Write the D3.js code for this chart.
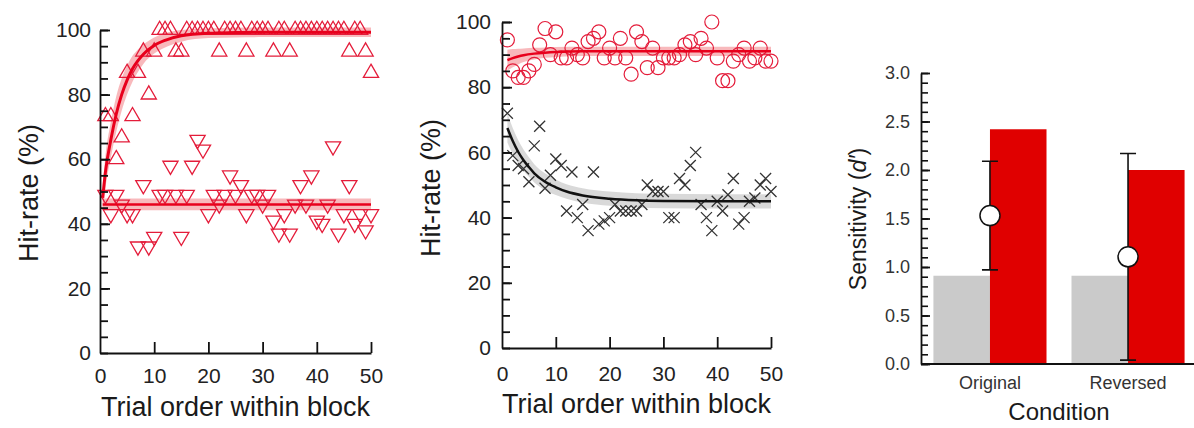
<!DOCTYPE html>
<html><head><meta charset="utf-8">
<script src="https://cdn.jsdelivr.net/npm/d3@7"></script>
<style>
body{margin:0;background:#fff;}
svg{display:block;font-family:"Liberation Sans",Arial,sans-serif;}
</style>
</head><body>
<svg id="c" width="1194" height="428"></svg>
<script>
// ---------- data ----------
const trials = d3.range(1, 51);
const yTicksHit = [0, 20, 40, 60, 80, 100];
const xTicksTrial = [0, 10, 20, 30, 40, 50];

// Panel A: upright triangles and inverted triangles
const upHits = [73.3,73.3,60,66.7,86.7,73.3,86.7,93.3,80,93.3,
  100,100,100,93.3,93.3,100,100,100,100,100,
  100,93.3,100,100,100,100,93.3,100,100,100,
  100,93.3,100,100,93.3,100,100,100,100,100,
  100,100,100,100,100,93.3,100,100,93.3,86.7];
const downHits = [49,43,49,46,43,43,33,52,33,36,
  49,49,58,49,36,49,58,66,63,43,
  49,46,49,55,49,52,43,49,49,46,
  49,41,37,43,37,46,52,46,55,41,
  40,46,64,37,43,52,40,43,38,43];
const upFitT = [0.5,1,2,3,4,5,6,7,8,10,12,15,20,25,30,40,50];
const upFit = [48,56,66,74,80,84.5,88,90.5,92.5,95.2,96.8,98.2,99,99.2,99.3,99.3,99.3];
const upBandHalf = [4,5,5.5,5.5,5,4.5,4,3.5,3,2.5,2.2,1.8,1.5,1.5,1.5,1.5,1.5];
const downFitT = [0.5, 50];
const downFit = [46, 46];
const downBandHalf = [1.8, 1.8];

// Panel B: circles and crosses
const circHits = [94.5,85,83,83,85,87,93,98,90,97,
  89,89,92,90,89,94,95,97,89,92,
  89,95,89,84,97,94,86,92,86,89,
  89,89,90,93,94,90,95,92,100,89,
  82,82,88,90,92,88,89,92,88,88];
const crossHits = [72,59,56,55,51,62,68,49,53,58,
  56,42,54,40,44,36,54,38,39,40,
  44,42,42,42,42,44,50,48,48,48,
  40,40,52,50,56,60,44,40,36,45,
  42,47,52,38,40,45,46,50,52,48];
const circFitT = [1,2,3,4,6,8,10,15,20,30,50];
const circFit = [88.3,88.9,89.4,89.8,90.3,90.6,90.8,91,91,91,91];
const circBandHalf = [3.2,2.8,2.4,2.1,1.8,1.6,1.5,1.4,1.4,1.4,1.4];
const crossFitT = [1,2,3,4,5,6,8,10,12,15,20,25,30,40,50];
const crossFit = [67.5,63.5,60.2,57.6,55.5,53.6,51,49.3,48,46.8,45.8,45.3,45.1,45,45];
const crossBandHalf = [4.5,4,3.6,3.3,3,2.8,2.6,2.4,2.2,2.2,2.2,2.2,2.2,2.2,2.2];

// Panel C: sensitivity bars
const conditions = ["Original", "Reversed"];
const barGroups = ["baseline", "observed"];
const baselineDp = [0.91, 0.91];
const observedDp = [2.42, 2.0];
const meanDp = [1.53, 1.105];
const errDp = [0.56, 1.065];
const yTicksDp = [0, 0.5, 1.0, 1.5, 2.0, 2.5, 3.0];

// ---------- styles ----------
const RED = "#e41c3a";
const svg = d3.select("#c");
const TICKFONT = 21, TITLEFONT = 27;

function hitAxes(g, x, y, opt) {
  g.append("g").attr("transform", `translate(${x(0)},0)`)
    .call(d3.axisLeft(y).tickValues(d3.range(0, 101, 5)).tickSize(-8).tickSizeOuter(0).tickFormat(""))
    .call(s => s.select(".domain").remove())
    .selectAll("line").attr("stroke", "#111").attr("stroke-width", 1.8);
  const ya = g.append("g").attr("transform", `translate(${x(0)},0)`)
    .call(d3.axisLeft(y).tickValues(yTicksHit).tickSize(-10).tickSizeOuter(0).tickPadding(opt.yPad));
  const xa = g.append("g").attr("transform", `translate(0,${y(0)})`)
    .call(d3.axisBottom(x).tickValues(xTicksTrial).tickSize(-11).tickSizeOuter(0).tickPadding(opt.xPad));
  [ya, xa].forEach(a => {
    a.selectAll("line,path").attr("stroke", "#111").attr("stroke-width", 1.8);
    a.selectAll("text").attr("font-size", TICKFONT).attr("fill", "#222").attr("font-family", "Liberation Sans, Arial, sans-serif");
  });
  xa.selectAll(".tick").filter(d => d === 0).select("line").remove();
  ya.selectAll(".tick").filter(d => d === 0).select("line").remove();
  g.append("text").attr("x", (x(0) + x(50)) / 2).attr("y", opt.xTitleY)
    .attr("text-anchor", "middle").attr("font-size", TITLEFONT).attr("fill", "#1a1a1a")
    .text("Trial order within block");
  g.append("text").attr("transform", `translate(${opt.yTitleX},${opt.yTitleY}) rotate(-90)`)
    .attr("text-anchor", "middle").attr("dy", "0.35em").attr("font-size", TITLEFONT).attr("fill", "#1a1a1a")
    .text("Hit-rate (%)");
}

function fitBand(g, x, y, ts, vals, halfs, fill) {
  const pts = ts.map((t, i) => ({t, v: vals[i], h: halfs[i]}));
  g.append("path").datum(pts)
    .attr("d", d3.area().curve(d3.curveMonotoneX).x(d => x(d.t)).y0(d => y(d.v - d.h)).y1(d => y(d.v + d.h)))
    .attr("fill", fill).attr("stroke", "none");
}
function fitLine(g, x, y, ts, vals, color, w) {
  const pts = ts.map((t, i) => ({t, v: vals[i]}));
  g.append("path").datum(pts)
    .attr("d", d3.line().curve(d3.curveMonotoneX).x(d => x(d.t)).y(d => y(d.v)))
    .attr("fill", "none").attr("stroke", color).attr("stroke-width", w);
}

// ---------- Panel A ----------
{
  const x = d3.scaleLinear().domain([0, 50]).range([100, 371]);
  const y = d3.scaleLinear().domain([0, 100]).range([353, 30]);
  const g = svg.append("g");
  const tri = d3.symbol().type(d3.symbolTriangle).size(100);
  fitBand(g, x, y, upFitT, upFit, upBandHalf, "rgba(236,70,80,0.38)");
  fitBand(g, x, y, downFitT, downFit, downBandHalf, "rgba(236,70,80,0.38)");
  g.selectAll(".up").data(trials).join("path")
    .attr("d", tri).attr("transform", (t, i) => `translate(${x(t)},${y(upHits[i])})`)
    .attr("fill", "none").attr("stroke", RED).attr("stroke-width", 1.3);
  g.selectAll(".down").data(trials).join("path")
    .attr("d", tri).attr("transform", (t, i) => `translate(${x(t)},${y(downHits[i])}) rotate(180)`)
    .attr("fill", "none").attr("stroke", RED).attr("stroke-width", 1.3);
  fitLine(g, x, y, upFitT, upFit, "#e8001c", 3);
  fitLine(g, x, y, downFitT, downFit, "#e8001c", 2.5);
  hitAxes(g, x, y, {yPad: 9, xPad: 15, xTitleY: 416, yTitleX: 29, yTitleY: 193});
}

// ---------- Panel B ----------
{
  const x = d3.scaleLinear().domain([0, 50]).range([502, 771]);
  const y = d3.scaleLinear().domain([0, 100]).range([348, 22]);
  const g = svg.append("g");
  fitBand(g, x, y, circFitT, circFit, circBandHalf, "rgba(236,70,80,0.38)");
  fitBand(g, x, y, crossFitT, crossFit, crossBandHalf, "rgba(0,0,0,0.15)");
  g.selectAll(".circ").data(trials).join("circle")
    .attr("cx", t => x(t)).attr("cy", (t, i) => y(circHits[i])).attr("r", 7)
    .attr("fill", "none").attr("stroke", RED).attr("stroke-width", 1.2);
  const s = 5.5;
  g.selectAll(".cross").data(trials).join("path")
    .attr("d", (t, i) => {
      const cx = x(t), cy = y(crossHits[i]);
      return `M${cx - s},${cy - s}L${cx + s},${cy + s}M${cx - s},${cy + s}L${cx + s},${cy - s}`;
    })
    .attr("fill", "none").attr("stroke", "#333").attr("stroke-width", 1.3);
  fitLine(g, x, y, circFitT, circFit, "#e8001c", 2.5);
  fitLine(g, x, y, crossFitT, crossFit, "#111", 2.5);
  hitAxes(g, x, y, {yPad: 11, xPad: 18, xTitleY: 413, yTitleX: 431, yTitleY: 188});
}

// ---------- Panel C ----------
{
  const y = d3.scaleLinear().domain([0, 3]).range([364, 73]);
  const x = d3.scaleBand().domain(conditions).range([921, 1197]).paddingInner(0.181).paddingOuter(0.09);
  const xs = d3.scaleBand().domain(barGroups).range([0, x.bandwidth()]);
  const g = svg.append("g");
  const rows = conditions.map((c, i) => ({c, base: baselineDp[i], obs: observedDp[i], m: meanDp[i], e: errDp[i]}));
  g.selectAll(".gbar").data(rows).join("rect")
    .attr("x", d => x(d.c) + xs("baseline")).attr("width", xs.bandwidth())
    .attr("y", d => y(d.base)).attr("height", d => y(0) - y(d.base)).attr("fill", "#cacaca");
  g.selectAll(".rbar").data(rows).join("rect")
    .attr("x", d => x(d.c) + xs("observed")).attr("width", xs.bandwidth())
    .attr("y", d => y(d.obs)).attr("height", d => y(0) - y(d.obs)).attr("fill", "#e00000");
  const cx = d => x(d.c) + xs("observed");
  g.selectAll(".eb").data(rows).join("path")
    .attr("d", d => `M${cx(d)},${y(d.m - d.e)}V${y(d.m + d.e)}M${cx(d) - 8},${y(d.m + d.e)}H${cx(d) + 8}M${cx(d) - 8},${y(d.m - d.e)}H${cx(d) + 8}`)
    .attr("stroke", "#111").attr("stroke-width", 1.6).attr("fill", "none");
  g.selectAll(".mc").data(rows).join("circle")
    .attr("cx", cx).attr("cy", d => y(d.m)).attr("r", 10)
    .attr("fill", "#fff").attr("stroke", "#111").attr("stroke-width", 1.5);

  g.append("g").attr("transform", "translate(921,0)")
    .call(d3.axisLeft(y).tickValues(d3.range(0, 31).map(v => v / 10)).tickSize(-7).tickSizeOuter(0).tickFormat(""))
    .call(s => s.select(".domain").remove())
    .selectAll("line").attr("stroke", "#111").attr("stroke-width", 1.6);
  const ya = g.append("g").attr("transform", "translate(921,0)")
    .call(d3.axisLeft(y).tickValues(yTicksDp).tickSize(-9).tickSizeOuter(0).tickPadding(11).tickFormat(d3.format(".1f")));
  ya.selectAll("line,path").attr("stroke", "#111").attr("stroke-width", 1.8);
  ya.selectAll("text").attr("font-size", 18).attr("fill", "#333").attr("font-family", "Liberation Sans, Arial, sans-serif");
  const xa = g.append("g").attr("transform", `translate(0,${y(0)})`)
    .call(d3.axisBottom(x).tickSize(0).tickPadding(12));
  xa.select(".domain").attr("d", `M921,0H1194`).attr("stroke", "#111").attr("stroke-width", 1.8);
  xa.selectAll(".tick").attr("transform", d => `translate(${x(d) + xs("observed")},0)`);
  xa.selectAll("text").attr("font-size", 18).attr("fill", "#333").attr("font-family", "Liberation Sans, Arial, sans-serif");
  g.append("text").attr("x", 1059).attr("y", 420).attr("text-anchor", "middle")
    .attr("font-size", 24).attr("fill", "#1a1a1a").text("Condition");
  const yt = g.append("text").attr("transform", "translate(858,219) rotate(-90)")
    .attr("text-anchor", "middle").attr("dy", "0.35em").attr("font-size", 23).attr("fill", "#1a1a1a");
  yt.append("tspan").text("Sensitivity (");
  yt.append("tspan").attr("font-style", "italic").text("d′");
  yt.append("tspan").text(")");
}
</script>
</body></html>
